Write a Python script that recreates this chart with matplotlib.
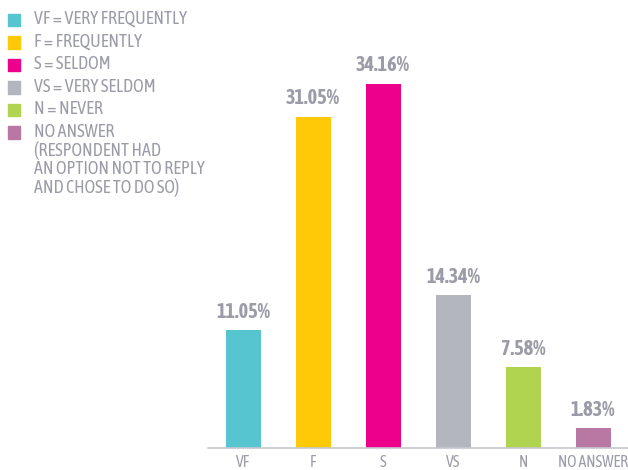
import matplotlib
matplotlib.use("Agg")
import matplotlib.pyplot as plt
from matplotlib.patches import Rectangle

# ── Data ───────────────────────────────────────────────────────────────────────
CATEGORIES = ["VF", "F", "S", "VS", "N", "NO ANSWER"]
PERCENTS   = [11.05, 31.05, 34.16, 14.34, 7.58, 1.83]
COLOURS    = ["#56C5D0", "#FFC907", "#EC008C", "#B3B6BE", "#B0D450", "#B978A4"]
LEGEND_LABELS = [
    "VF = VERY FREQUENTLY",
    "F = FREQUENTLY",
    "S = SELDOM",
    "VS = VERY SELDOM",
    "N = NEVER",
    "NO ANSWER\n(RESPONDENT HAD\nAN OPTION NOT TO REPLY\nAND CHOSE TO DO SO)",
]

TEXT_GREY = "#9B9CA7"
AXIS_GREY = "#C4C7D0"
FONT = ["Asap Condensed", "DejaVu Sans"]

plt.rcParams["font.family"] = FONT

W, H = 628, 470
fig = plt.figure(figsize=(W / 100, H / 100), dpi=100)
ax = fig.add_axes([208 / W, 22 / H, 420 / W, 448 / H])

x = list(range(len(CATEGORIES)))
ax.bar(x, PERCENTS, width=0.5, color=COLOURS, zorder=2)
for xi, v in zip(x, PERCENTS):
    ax.annotate(f"{v:.2f}%", (xi, v), xytext=(0, 6), textcoords="offset points",
                ha="center", va="bottom", fontsize=14.5, fontweight="bold",
                color=TEXT_GREY)

ax.set_xlim(-0.5, 5.5)
ax.set_ylim(0, 42)
ax.set_xticks(x)
ax.set_xticklabels(CATEGORIES, fontsize=11.3, color=TEXT_GREY)
ax.tick_params(axis="x", length=0, pad=4)
ax.set_yticks([])
for s in ("top", "right", "left"):
    ax.spines[s].set_visible(False)
ax.spines["bottom"].set_color(AXIS_GREY)
ax.spines["bottom"].set_linewidth(1.2)

# ── Legend drawn by hand (squares + stacked labels) ───────────────────────────
y_px = 20
for col, lab in zip(COLOURS, LEGEND_LABELS):
    fig.patches.append(Rectangle((8 / W, 1 - (y_px + 6) / H), 12 / W, 12 / H,
                                 transform=fig.transFigure, color=col))
    fig.text(34 / W, 1 - (y_px - 10) / H, lab, fontsize=13, color=TEXT_GREY,
             ha="left", va="top", linespacing=1.0)
    y_px += 22.5

fig.savefig("out.png", dpi=100)
